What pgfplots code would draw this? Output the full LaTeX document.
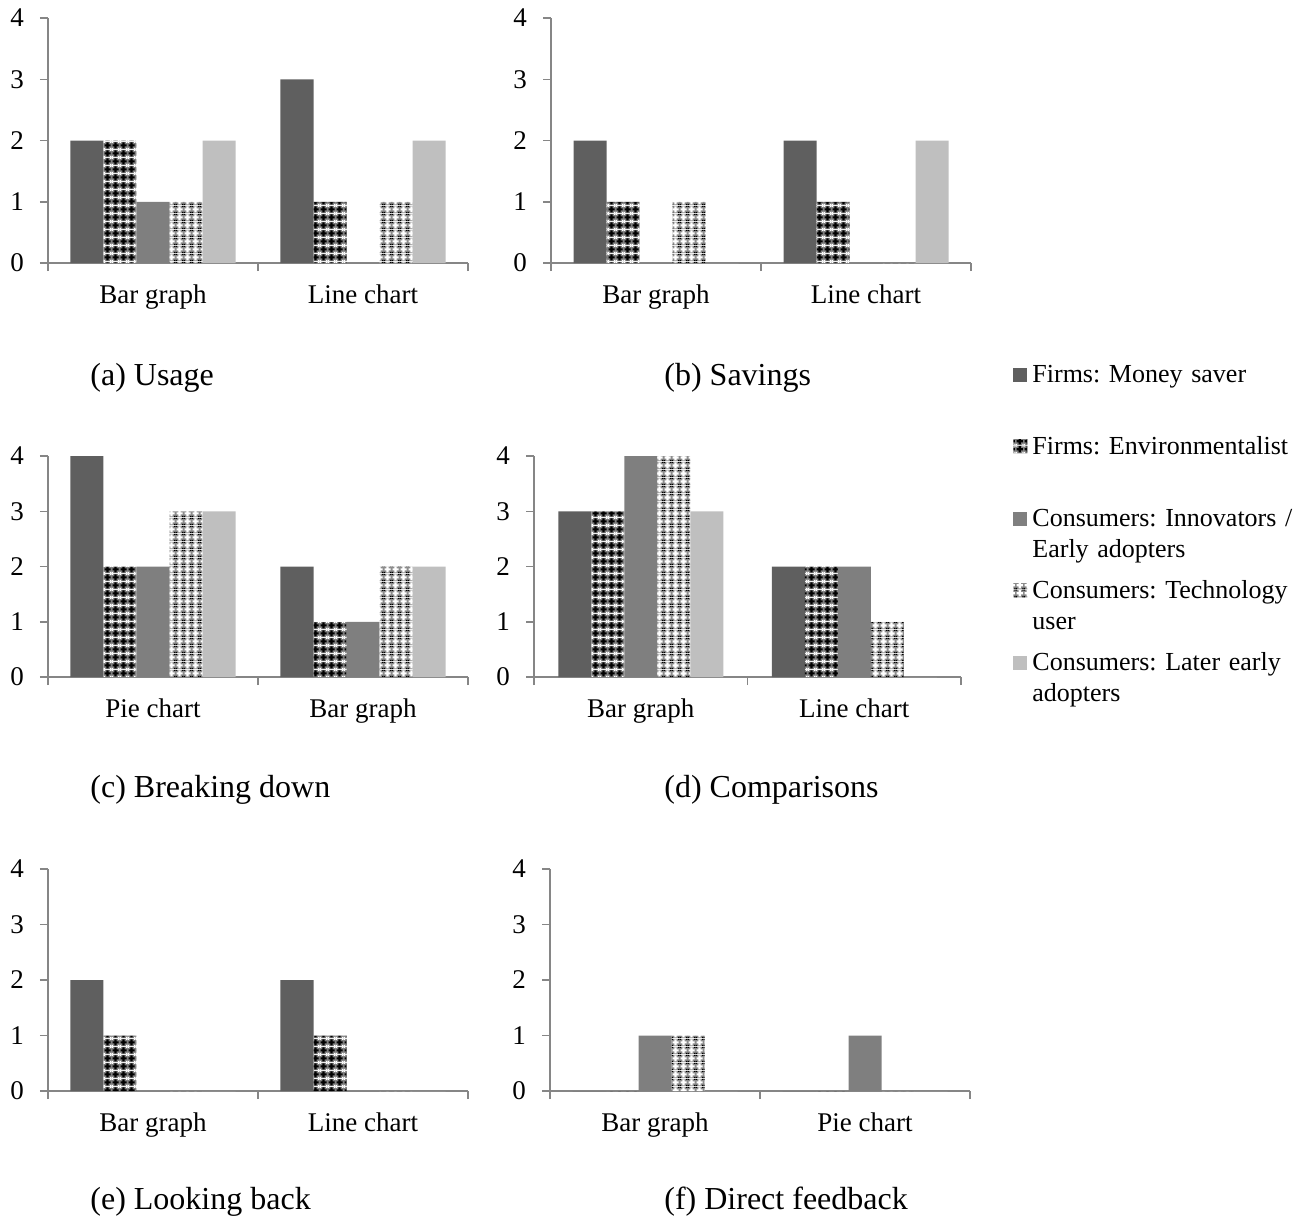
\documentclass[border=0pt]{standalone}
\usepackage{fontspec}
\setmainfont{Liberation Serif}
\usepackage{pgfplots}
\usepackage{pgfplotstable}
\pgfplotsset{compat=1.18}
\usetikzlibrary{patterns}
\frenchspacing

\definecolor{msaver}{RGB}{95,95,95}
\definecolor{innov}{RGB}{127,127,127}
\definecolor{later}{RGB}{191,191,191}
\definecolor{axgray}{RGB}{134,134,134}

% dark check pattern: black crosses, white dots on mid grey
\pgfdeclarepatterninherentlycolored{envcheck}{\pgfpointorigin}{\pgfpoint{4pt}{4pt}}{\pgfpoint{4pt}{4pt}}{%
  \pgfsetfillcolor{black!50}%
  \pgfpathrectangle{\pgfpointorigin}{\pgfpoint{4pt}{4pt}}\pgfusepath{fill}%
  \pgfsetfillcolor{black}%
  \pgfpathrectangle{\pgfpoint{1.4pt}{0.3pt}}{\pgfpoint{1.2pt}{3.4pt}}%
  \pgfpathrectangle{\pgfpoint{0.3pt}{1.4pt}}{\pgfpoint{3.4pt}{1.2pt}}%
  \pgfusepath{fill}%
  \pgfsetfillcolor{white}%
  \pgfpathrectangle{\pgfpoint{0pt}{0pt}}{\pgfpoint{0.6pt}{0.6pt}}%
  \pgfpathrectangle{\pgfpoint{3.4pt}{0pt}}{\pgfpoint{0.6pt}{0.6pt}}%
  \pgfpathrectangle{\pgfpoint{0pt}{3.4pt}}{\pgfpoint{0.6pt}{0.6pt}}%
  \pgfpathrectangle{\pgfpoint{3.4pt}{3.4pt}}{\pgfpoint{0.6pt}{0.6pt}}%
  \pgfusepath{fill}%
}
% light check pattern: white crosses, black dots on light grey
\pgfdeclarepatterninherentlycolored{techcheck}{\pgfpointorigin}{\pgfpoint{4pt}{4pt}}{\pgfpoint{4pt}{4pt}}{%
  \pgfsetfillcolor{black!45}%
  \pgfpathrectangle{\pgfpointorigin}{\pgfpoint{4pt}{4pt}}\pgfusepath{fill}%
  \pgfsetfillcolor{white}%
  \pgfpathrectangle{\pgfpoint{1.4pt}{0.3pt}}{\pgfpoint{1.2pt}{3.4pt}}%
  \pgfpathrectangle{\pgfpoint{0.3pt}{1.4pt}}{\pgfpoint{3.4pt}{1.2pt}}%
  \pgfusepath{fill}%
  \pgfsetfillcolor{black}%
  \pgfpathrectangle{\pgfpoint{0pt}{0pt}}{\pgfpoint{0.6pt}{0.6pt}}%
  \pgfpathrectangle{\pgfpoint{3.4pt}{0pt}}{\pgfpoint{0.6pt}{0.6pt}}%
  \pgfpathrectangle{\pgfpoint{0pt}{3.4pt}}{\pgfpoint{0.6pt}{0.6pt}}%
  \pgfpathrectangle{\pgfpoint{3.4pt}{3.4pt}}{\pgfpoint{0.6pt}{0.6pt}}%
  \pgfusepath{fill}%
}

\newcommand\labfont{\fontsize{13.5}{15.5}\selectfont}
\newcommand\legfont{\fontsize{13}{15.5}\selectfont}
\newcommand\capfont{\fontsize{16}{19}\selectfont}

\pgfplotsset{
  sq legend/.style={legend image code/.code={\fill[##1] (0pt,0.2pt) rectangle (7pt,7.2pt);}},
  s1/.style={fill=msaver, draw=none, sq legend},
  s2/.style={pattern=envcheck, draw=none, sq legend},
  s3/.style={fill=innov, draw=none, sq legend},
  s4/.style={pattern=techcheck, draw=none, sq legend},
  s5/.style={fill=later, draw=none, sq legend},
  panel/.style={
    scale only axis, anchor=south west, clip=false,
    ybar=0pt, bar width=16.5pt,
    ymin=0, ymax=4, ytick={0,1,2,3,4},
    xmin=-0.5, xmax=1.5,
    xtick={-0.5,0.5,1.5}, xticklabels={},
    extra x ticks={0,1},
    extra x tick style={major tick length=0pt, xticklabel style={yshift=-7.1pt}},
    axis lines=left,
    axis line style={-, draw=axgray, line width=0.75pt},
    tick align=outside, major tick length=4pt,
    tick style={draw=axgray, line width=0.75pt},
    tick label style={font=\labfont},
    /pgf/number format/assume math mode=true,
    yticklabel style={xshift=-4.5pt},
  },
}

\newcommand\bars[1]{%
  \addplot[s1] table[x=x, y=ms]{#1};
  \addplot[s2] table[x=x, y=env]{#1};
  \addplot[s3] table[x=x, y=inn]{#1};
  \addplot[s4] table[x=x, y=tech]{#1};
  \addplot[s5] table[x=x, y=late]{#1};
}

% counts per group: money saver, environmentalist, innovators, technology user, later early adopters
\pgfplotstableread{
x ms env inn tech late
0 2 2 1 1 2
1 3 1 0 1 2
}\usage
\pgfplotstableread{
x ms env inn tech late
0 2 1 0 1 0
1 2 1 0 0 2
}\savings
\pgfplotstableread{
x ms env inn tech late
0 4 2 2 3 3
1 2 1 1 2 2
}\breaking
\pgfplotstableread{
x ms env inn tech late
0 3 3 4 4 3
1 2 2 2 1 0
}\comparisons
\pgfplotstableread{
x ms env inn tech late
0 2 1 0 0 0
1 2 1 0 0 0
}\lookback
\pgfplotstableread{
x ms env inn tech late
0 0 0 1 1 0
1 0 0 1 0 0
}\feedback

\begin{document}
\begin{tikzpicture}
\useasboundingbox (0pt,0pt) rectangle (655pt,-610.5pt);

\begin{axis}[panel, at={(24pt,-131.5pt)}, width=210pt, height=122.5pt,
  extra x tick labels={Bar graph, Line chart}]
  \bars{\usage}
\end{axis}

\begin{axis}[panel, at={(275.5pt,-131.5pt)}, width=210pt, height=122.5pt,
  extra x tick labels={Bar graph, Line chart},
  legend style={at={(axis description cs:1.1,-0.4024)}, anchor=north west,
    draw=none, fill=none, inner sep=0pt, row sep=5pt, column sep=1.5pt,
    nodes={anchor=base west, text width=140pt, align=left,
      execute at begin node=\raggedright,
      text height=9pt, text depth=20pt, inner sep=1pt, font=\legfont}}]
  \bars{\savings}
  \addlegendentry{Firms: Money saver}
  \addlegendentry{Firms: Environmentalist}
  \addlegendentry{Consumers: Innovators /\\Early adopters}
  \addlegendentry{Consumers: Technology\\user}
  \addlegendentry{Consumers: Later early\\adopters}
\end{axis}

\begin{axis}[panel, at={(24pt,-338.5pt)}, width=210pt, height=110.5pt,
  extra x tick labels={Pie chart, Bar graph}]
  \bars{\breaking}
\end{axis}

\begin{axis}[panel, at={(267pt,-338.5pt)}, width=213.5pt, height=110.5pt,
  extra x tick labels={Bar graph, Line chart}]
  \bars{\comparisons}
\end{axis}

\begin{axis}[panel, at={(24pt,-545.5pt)}, width=210pt, height=111pt,
  extra x tick labels={Bar graph, Line chart}]
  \bars{\lookback}
\end{axis}

\begin{axis}[panel, at={(275pt,-545.5pt)}, width=210pt, height=111pt,
  extra x tick labels={Bar graph, Pie chart}]
  \bars{\feedback}
\end{axis}

\begin{scope}[every node/.style={anchor=west, inner sep=0pt, font=\capfont}]
  \node at (45pt,-189pt) {(a) Usage};
  \node at (332pt,-189pt) {(b) Savings};
  \node at (45pt,-395pt) {(c) Breaking down};
  \node at (332pt,-395pt) {(d) Comparisons};
  \node at (45pt,-601pt) {(e) Looking back};
  \node at (332pt,-601pt) {(f) Direct feedback};
\end{scope}
\end{tikzpicture}
\end{document}
